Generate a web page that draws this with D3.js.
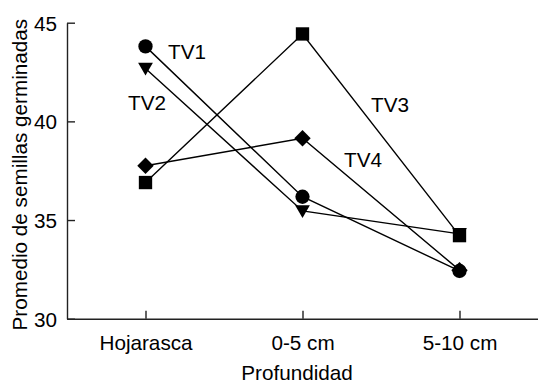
<!DOCTYPE html>
<html>
<head>
<meta charset="utf-8">
<script src="https://cdn.jsdelivr.net/npm/d3@7"></script>
<style>
  body { margin: 0; background: #fff; }
  text { font-family: "Liberation Sans", Arial, sans-serif; fill: #000; }
</style>
</head>
<body>
<script>
// data
let categories = ["Hojarasca", "0-5 cm", "5-10 cm"];
let tv1 = [43.8, 36.18, 32.42];
let tv2 = [42.68, 35.46, 34.3];
let tv3 = [36.9, 44.43, 34.21];
let tv4 = [37.75, 39.14, 32.46];
let yTicks = [30, 35, 40, 45];

let width = 538,
  height = 383;
let plotLeft = 67, plotRight = 538, plotTop = 22.7, plotBottom = 318.7;

let svg = d3.select("body").append("svg")
  .attr("width", width)
  .attr("height", height);

let x = d3.scalePoint()
  .domain(categories)
  .range([plotLeft, plotRight])
  .padding(0.5);

let y = d3.scaleLinear()
  .domain([30, 45])
  .range([plotBottom, plotTop]);

//axes, ticks pointing inward
let yAxis = svg.append("g")
  .attr("transform", "translate(" + plotLeft + ",0)")
  .call(d3.axisLeft(y).tickValues(yTicks).tickSizeInner(-8).tickSizeOuter(0).tickPadding(18));
let xAxis = svg.append("g")
  .attr("transform", "translate(0," + plotBottom + ")")
  .call(d3.axisBottom(x).tickSizeInner(-8).tickSizeOuter(0).tickPadding(16));

svg.selectAll(".domain, .tick line")
  .attr("stroke", "#222")
  .attr("stroke-width", 1.4);
svg.selectAll(".tick text")
  .style("font-size", "20.7px")
  .attr("fill", "#000");
yAxis.selectAll(".tick text").attr("dy", "0.36em").attr("x", -10);
xAxis.selectAll(".tick text").attr("y", 17).attr("dy", "0.71em");

//axis titles
svg.append("text")
  .attr("transform", "translate(27," + ((plotTop + plotBottom) / 2 + 4) + ") rotate(-90)")
  .attr("text-anchor", "middle")
  .style("font-size", "20.7px")
  .text("Promedio de semillas germinadas");
svg.append("text")
  .attr("x", 297)
  .attr("y", 380)
  .attr("text-anchor", "middle")
  .style("font-size", "20.7px")
  .text("Profundidad");

let series = [
  { name: "TV3", values: tv3, symbol: d3.symbolSquare, size: 178, rot: 0 },
  { name: "TV2", values: tv2, symbol: d3.symbolTriangle, size: 95, rot: 180 },
  { name: "TV1", values: tv1, symbol: d3.symbolCircle, size: 160, rot: 0 },
  { name: "TV4", values: tv4, symbol: d3.symbolSquare, size: 135, rot: 45 }
];

let line = d3.line()
  .x(function(d, i) { return x(categories[i]); })
  .y(function(d) { return y(d); });

series.forEach(function(s) {
  svg.append("path")
    .attr("d", line(s.values))
    .attr("fill", "none")
    .attr("stroke", "#000")
    .attr("stroke-width", 1.4);
});

series.forEach(function(s) {
  svg.append("g").selectAll("path")
    .data(s.values)
    .enter().append("path")
    .attr("d", d3.symbol().type(s.symbol).size(s.size))
    .attr("transform", function(d, i) {
      let dy = s.rot == 180 ? -1.5 : 0;
      return "translate(" + x(categories[i]) + "," + (y(d) + dy) + ") rotate(" + s.rot + ")";
    })
    .attr("fill", "#000");
});

//series labels
let labels = [
  { name: "TV1", x: 168, y: 59 },
  { name: "TV2", x: 128, y: 110 },
  { name: "TV3", x: 371, y: 112 },
  { name: "TV4", x: 344, y: 167 }
];
svg.selectAll(".lab")
  .data(labels)
  .enter().append("text")
  .attr("class", "lab")
  .attr("x", function(d) { return d.x; })
  .attr("y", function(d) { return d.y; })
  .style("font-size", "20.7px")
  .text(function(d) { return d.name; });
</script>
</body>
</html>
